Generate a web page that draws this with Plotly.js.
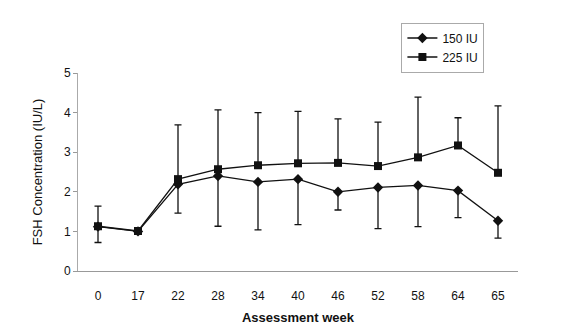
<!DOCTYPE html>
<html>
<head>
<meta charset="utf-8">
<script src="https://cdn.plot.ly/plotly-3.0.1.min.js"></script>
<style>html,body{margin:0;padding:0;background:#fff;}#chart{width:569px;height:335px;}</style>
</head>
<body>
<div id="chart"></div>
<script>
const weeks = ["0","17","22","28","34","40","46","52","58","64","65"];
const mean150 = [1.12, 1.00, 2.19, 2.40, 2.25, 2.32, 2.00, 2.11, 2.16, 2.03, 1.27];
const lower150 = [0.72, 1.00, 1.46, 1.13, 1.04, 1.17, 1.54, 1.07, 1.12, 1.35, 0.83];
const mean225 = [1.13, 1.01, 2.32, 2.57, 2.67, 2.72, 2.73, 2.65, 2.87, 3.17, 2.48];
const upper225 = [1.64, 1.01, 3.69, 4.07, 4.00, 4.03, 3.84, 3.76, 4.39, 3.87, 4.17];

const minus150 = mean150.map((v,i)=>Math.max(0, v - lower150[i]));
const plus225 = mean225.map((v,i)=>Math.max(0, upper225[i] - v));

const fam = "Liberation Sans, Arial, sans-serif";

const traces = [
  {
    x: weeks, y: mean150, name: "150 IU", type: "scatter", mode: "lines+markers",
    line: {color: "#111", width: 1.3},
    marker: {symbol: "diamond", size: 8, color: "#111"},
    error_y: {type: "data", symmetric: false, array: mean150.map(()=>0), arrayminus: minus150,
              color: "#111", thickness: 1.3, width: 3.5}
  },
  {
    x: weeks, y: mean225, name: "225 IU", type: "scatter", mode: "lines+markers",
    line: {color: "#111", width: 1.3},
    marker: {symbol: "square", size: 8, color: "#111"},
    error_y: {type: "data", symmetric: false, array: plus225, arrayminus: mean225.map(()=>0),
              color: "#111", thickness: 1.3, width: 3.5}
  }
];

const layout = {
  width: 569, height: 335,
  margin: {l: 78, r: 51, t: 73, b: 64},
  paper_bgcolor: "#fff", plot_bgcolor: "#fff",
  font: {family: fam, size: 12, color: "#111"},
  showlegend: true,
  legend: {
    x: 0.735, y: 1.255, xanchor: "left", yanchor: "top",
    bordercolor: "#aaa", borderwidth: 1, bgcolor: "#fff",
    font: {family: fam, size: 12, color: "#111"},
    itemwidth: 30, tracegroupgap: 0, entrywidth: 90
  },
  xaxis: {
    type: "category",
    range: [-0.5, 10.5],
    showline: true, linecolor: "#999", linewidth: 1,
    showgrid: false, zeroline: false,
    ticks: "", ticklabelstandoff: 14,
    tickfont: {family: fam, size: 12, color: "#111"},
    title: {text: "Assessment week", font: {family: fam, size: 13, color: "#111", weight: "bold"}, standoff: 10}
  },
  yaxis: {
    range: [0, 5], dtick: 1,
    showline: true, linecolor: "#aaa", linewidth: 1,
    showgrid: false, zeroline: false,
    ticks: "outside", ticklen: 4, tickcolor: "#999",
    tickfont: {family: fam, size: 12, color: "#111"},
    title: {text: "FSH Concentration (IU/L)", font: {family: fam, size: 13, color: "#111"}, standoff: 18}
  }
};

Plotly.newPlot("chart", traces, layout, {displayModeBar: false, staticPlot: true});
</script>
</body>
</html>
